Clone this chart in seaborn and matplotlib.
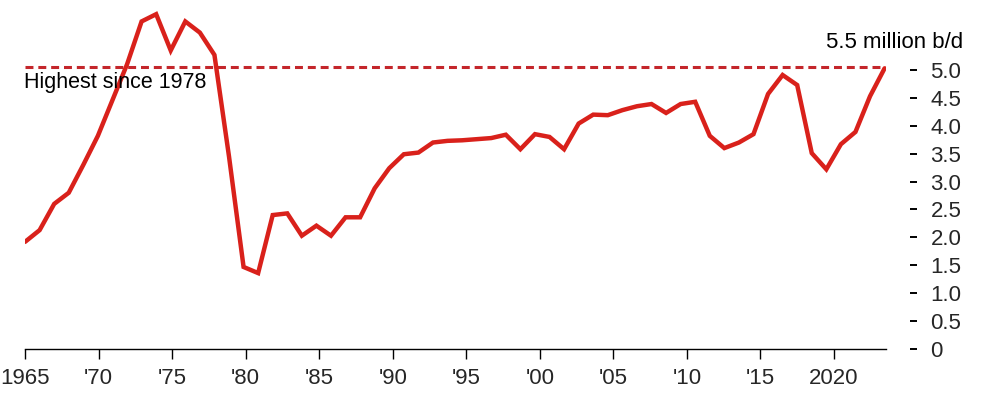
import numpy as np
import pandas as pd
import matplotlib
matplotlib.use("Agg")
import matplotlib.pyplot as plt
import seaborn as sns

# annual output, million barrels a day
years = list(range(1965, 2025))
output = [
    1.92, 2.13, 2.60, 2.80, 3.30, 3.82, 4.46, 5.10, 5.87, 6.00,
    5.35, 5.87, 5.67, 5.27, 3.45, 1.47, 1.36, 2.40, 2.43, 2.03,
    2.21, 2.03, 2.36, 2.36, 2.88, 3.24, 3.49, 3.52, 3.70, 3.73,
    3.74, 3.76, 3.78, 3.84, 3.58, 3.85, 3.80, 3.58, 4.04, 4.20,
    4.19, 4.28, 4.35, 4.39, 4.23, 4.39, 4.43, 3.82, 3.60, 3.70,
    3.85, 4.57, 4.91, 4.73, 3.51, 3.22, 3.67, 3.89, 4.53, 5.03,
]
highest_level = 5.06
highest_label = "Highest since 1978"
unit_label = "5.5 million b/d"

x_tick_years = [1965, 1970, 1975, 1980, 1985, 1990, 1995, 2000, 2005, 2010, 2015, 2020]
x_tick_labels = ["1965", "'70", "'75", "'80", "'85", "'90", "'95", "'00", "'05", "'10", "'15", "2020"]
y_ticks = [0, 0.5, 1.0, 1.5, 2.0, 2.5, 3.0, 3.5, 4.0, 4.5, 5.0]
y_tick_labels = ["0", "0.5", "1.0", "1.5", "2.0", "2.5", "3.0", "3.5", "4.0", "4.5", "5.0"]

RED = "#d9211b"
DASH_RED = "#c4262b"

sns.set_style("white")
plt.rcParams["font.family"] = ["Liberation Sans", "DejaVu Sans"]

df = pd.DataFrame({"year": years, "output": output})

fig = plt.figure(figsize=(9.82, 3.93), dpi=100)
ax = fig.add_axes([0.0255, 0.112, 0.8768, 0.8874])

ax.hlines(highest_level, years[0], years[-1], color=DASH_RED, lw=2.2,
          linestyles=(0, (2.6, 1.6)), zorder=2)
sns.lineplot(data=df, x="year", y="output", ax=ax, color=RED, lw=3.2,
             zorder=3, solid_joinstyle="miter")

ax.set_xlim(1965, 2024.1)
ax.set_ylim(0, 6.25)

# the source's year labels sit slightly wider apart than the data points
stretch = 1.0095
ax.set_xticks([1965 + (y - 1965) * stretch for y in x_tick_years])
ax.set_xticklabels(x_tick_labels)
ax.tick_params(axis="x", direction="out", length=7, width=1, color="black",
               labelsize=16, pad=7, bottom=True)

ax.yaxis.tick_right()
ax.spines["right"].set_position(("outward", 17))
ax.set_yticks(y_ticks)
ax.set_yticklabels(y_tick_labels)
ax.tick_params(axis="y", direction="out", length=5, width=1.4, color="black",
               labelsize=16, pad=10, right=True, left=False)

for side in ["left", "top", "right"]:
    ax.spines[side].set_visible(False)
ax.spines["bottom"].set_color("black")
ax.spines["bottom"].set_linewidth(1)

ax.set_xlabel("")
ax.set_ylabel("")

ax.text(1.0894, 5.5, unit_label, transform=ax.get_yaxis_transform(),
        ha="right", va="center", fontsize=16, color="black")
ax.text(1964.9, 4.77, highest_label, ha="left", va="center", fontsize=15.5,
        color="black")

fig.savefig("out.png", dpi=100)
